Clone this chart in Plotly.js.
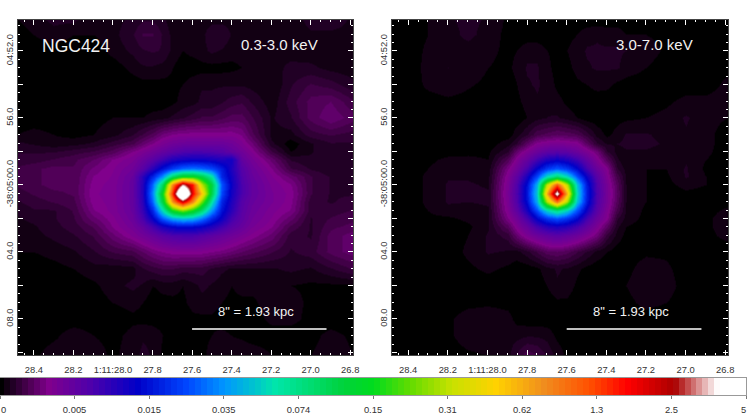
<!DOCTYPE html>
<html>
<head>
<meta charset="utf-8">
<script src="https://cdn.plot.ly/plotly-3.0.1.min.js"></script>
<style>html,body{margin:0;padding:0;background:#fff}#plot{width:747px;height:415px}</style>
</head>
<body>
<div id="plot"></div>
<script>
// right ascension (seconds of 1:11:xx) and declination (seconds past -38:04:00)
const raSec = [28.483,28.4,28.3,28.2,28.1,28.0,27.9,27.85,27.8,27.75,27.7,27.65,27.6,27.55,27.5,27.45,27.4,27.35,27.3,27.2,27.1,27.0,26.9,26.786];
const decSec = [50.12,51,52,53,54,55,56,57,57.5,58,58.5,59,59.5,60,60.5,61,61.5,62,62.5,63,64,65,66,67,68,69,70.15];

// brightness, in units of the colour bar (0 = first tick, 10 = last)
const softBand = [
[.05,.1,.15,.15,.05,.1,.15,.2,.2,.15,.08,.08,.08,.08,.1,.1,.1,.08,.1,.1,.1,.15,.2,.1],
[0,.05,.1,.05,.05,.1,.2,.3,.3,.2,.1,.1,.1,.1,.2,.2,.12,.1,.1,.1,.1,.12,.1,.1],
[0,0,0,0,0,.08,.15,.2,.22,.2,.1,.05,.08,.1,.15,.12,.08,.08,.08,.1,.1,.08,.08,.1],
[0,0,0,0,0,0,.08,.12,.12,.1,.05,0,0,.02,.02,.02,.03,.05,.05,.1,.15,.15,.1,.08],
[0,0,0,0,0,0,0,.02,.02,.02,.03,.05,.1,.12,.12,.12,.12,.12,.1,.05,.2,.3,.25,.15],
[0,0,0,0,0,0,0,0,0,0,.03,.08,.1,.15,.15,.2,.25,.28,.2,.08,.25,.4,.45,.3],
[0,0,0,0,.02,.05,.05,.05,.08,.1,.15,.2,.25,.3,.3,.35,.4,.4,.3,.12,.2,.4,.52,.4],
[.05,.08,.05,.02,.05,.1,.2,.3,.4,.55,.62,.66,.66,.66,.66,.66,.66,.6,.4,.1,.1,.25,.3,.25],
[.15,.12,.08,.1,.15,.25,.35,.5,.62,.75,.85,.9,.92,.92,.92,.92,.85,.72,.55,.15,0,.12,.2,.2],
[.2,.2,.2,.25,.3,.4,.62,.72,.85,.98,1.1,1.2,1.25,1.25,1.2,1.15,1.0,.85,.68,.3,.05,.12,.2,.2],
[.25,.25,.3,.35,.45,.62,.75,.92,1.1,1.35,1.6,1.7,1.75,1.75,1.7,1.6,1.7,1.0,.8,.5,.2,.15,.15,.15],
[.3,.35,.4,.38,.55,.68,.85,1.1,1.5,2.0,2.4,2.7,2.8,2.7,2.5,2.1,1.6,1.15,.9,.62,.3,.2,.15,.15],
[.3,.35,.4,.38,.62,.7,.95,1.5,2.2,3.0,4.3,5.0,5.0,4.6,3.8,2.2,1.7,1.2,.95,.7,.5,.3,.2,.15],
[.3,.35,.4,.38,.66,.72,.98,1.55,2.7,4.3,7.4,9.4,8.3,6.0,4.6,2.6,1.75,1.25,1.0,.75,.62,.3,.2,.15],
[.25,.3,.35,.38,.68,.72,.98,1.55,2.9,5.0,8.2,12,8.5,6.8,4.5,2.5,1.7,1.25,1.0,.78,.66,.3,.2,.2],
[.2,.25,.3,.35,.66,.72,.98,1.5,2.7,4.6,7.3,8.8,7.4,5.6,3.8,2.2,1.6,1.15,.95,.78,.64,.25,.2,.25],
[.15,.2,.2,.3,.6,.72,.95,1.4,2.2,3.6,5.0,5.6,5.0,4.2,3.0,2.0,1.5,1.1,.9,.72,.6,.25,.25,.3],
[.12,.15,.2,.28,.5,.66,.9,1.25,1.8,2.6,3.1,3.3,3.2,2.8,2.2,1.75,1.3,1.05,.85,.68,.48,.2,.3,.35],
[.1,.12,.18,.25,.38,.62,.82,1.0,1.3,1.65,1.85,1.95,1.9,1.8,1.6,1.35,1.1,.95,.78,.62,.35,.2,.35,.4],
[.1,.1,.15,.2,.3,.5,.7,.82,.95,1.1,1.2,1.25,1.25,1.15,1.05,.95,.85,.75,.66,.5,.25,.2,.4,.5],
[.05,.05,.08,.12,.2,.3,.35,.45,.55,.62,.66,.68,.68,.66,.62,.58,.52,.45,.4,.3,.2,.25,.4,.5],
[0,0,.02,.05,.1,.08,.1,.2,.25,.3,.3,.25,.25,.25,.2,.15,.12,.12,.12,.12,.15,.12,.2,.3],
[0,0,0,0,.03,.1,.15,.12,.05,.08,.08,.05,.1,.15,.12,.08,.05,.08,.08,.06,.05,.03,.03,.03],
[0,0,0,0,0,.05,.08,.05,0,.02,.03,.03,.08,.1,.1,.05,.03,.03,.03,.1,.1,.02,0,0],
[0,0,0,0,0,0,.03,.02,0,0,0,0,.03,.03,.03,0,0,0,0,.08,.08,.02,0,0],
[0,0,.03,.1,.05,.02,.08,.12,.12,.05,0,0,0,.03,.05,.08,.05,.03,0,0,0,.02,.08,.03],
[0,.03,.1,.12,.1,.03,.1,.15,.12,.03,0,0,0,.03,.08,.1,.12,.14,.12,.05,.02,.05,.1,.05]
];
const hardBand = [
[0,0,.05,.12,.15,.12,.03,0,0,0,0,0,0,0,0,0,0,0,0,0,0,0,0,0],
[0,0,.05,.1,.15,.1,.02,0,0,0,0,.02,.02,.05,.1,.12,.1,.1,.05,.05,.02,0,0,0],
[0,0,.07,.1,.1,.07,.03,.05,.1,.1,.05,.03,.05,.1,.14,.14,.14,.14,.13,.1,.03,0,0,0],
[0,0,.08,.13,.1,.05,.03,.08,.14,.14,.07,.02,.02,.08,.12,.14,.14,.14,.1,.05,0,0,0,.02],
[0,0,.07,.1,.06,.03,0,.05,.12,.14,.1,.03,0,.03,.05,.08,.07,.03,.01,0,0,0,0,.08],
[0,0,.01,.03,.02,0,0,.03,.08,.12,.12,.08,.03,0,0,0,0,0,0,0,.03,.08,.08,.1],
[0,0,0,0,0,0,0,0,.05,.1,.13,.14,.1,.05,0,0,0,.02,.03,.05,.08,.14,.08,.05],
[0,0,0,0,0,0,0,.1,.2,.35,.4,.45,.42,.38,.25,.1,.03,.08,.14,.14,.1,.12,.08,0],
[0,0,0,0,0,0,.1,.22,.45,.66,.72,.75,.72,.68,.45,.22,.12,.13,.15,.15,.12,.12,.08,0],
[0,0,0,.02,.03,.03,.2,.5,.72,.9,1.05,1.1,1.05,.9,.73,.55,.22,.1,.12,.12,.1,.12,.07,0],
[0,0,.03,.07,.07,.05,.4,.7,.95,1.3,1.6,1.75,1.6,1.35,1.0,.7,.42,.15,.05,.05,.08,.12,.05,0],
[0,0,.05,.1,.1,.08,.6,.85,1.25,1.85,2.35,2.6,2.35,1.9,1.3,.9,.65,.22,.1,.05,.05,.14,.03,0],
[0,0,.07,.12,.12,.1,.7,1.05,1.65,2.5,3.6,4.2,3.6,2.6,1.75,1.1,.7,.35,.12,.05,.03,.14,.05,0],
[0,0,.07,.14,.14,.12,.75,1.2,1.95,3.2,6.0,7.8,6.0,3.4,2.05,1.2,.78,.42,.13,.05,.02,.08,.05,0],
[0,0,.07,.14,.15,.14,.78,1.25,2.05,3.4,7.0,9.9,7.0,3.6,2.1,1.25,.8,.45,.13,.05,0,.03,.02,0],
[0,0,.07,.14,.13,.14,.75,1.2,1.95,3.2,5.9,7.6,5.9,3.4,2.05,1.2,.78,.42,.13,.05,0,.02,0,.02],
[0,0,.05,.1,.1,.12,.7,1.05,1.65,2.5,3.5,4.0,3.5,2.55,1.7,1.08,.7,.35,.12,.03,0,0,.02,.07],
[0,0,.03,.03,.07,.12,.6,.85,1.25,1.85,2.3,2.55,2.3,1.9,1.3,.9,.65,.22,.1,.02,0,0,.03,.1],
[0,0,0,0,.03,.12,.42,.7,.95,1.3,1.55,1.65,1.55,1.3,1.0,.72,.45,.15,.05,0,0,0,.03,.1],
[0,0,0,0,.05,.14,.25,.5,.72,.88,1.0,1.08,1.0,.88,.72,.55,.25,.1,.02,0,0,0,.02,.08],
[0,0,0,0,.07,.14,.12,.1,.18,.3,.42,.45,.4,.3,.2,.1,.05,0,0,.03,.03,0,0,0],
[0,0,0,0,.03,.07,.03,0,0,.03,.1,.14,.12,.07,.02,0,0,0,.02,.1,.07,0,0,0],
[0,0,0,0,0,0,0,0,0,0,.05,.12,.1,.03,0,0,0,0,.05,.12,.1,0,0,0],
[0,0,0,0,.02,.03,.02,0,0,0,0,.03,.03,0,0,0,0,0,.02,.08,.05,0,0,0],
[0,0,0,.03,.1,.12,.08,.02,0,0,0,0,0,0,0,0,0,0,0,0,0,0,0,0],
[0,0,0,.03,.1,.12,.1,.1,.12,.12,.1,.03,0,0,0,0,0,0,0,0,0,0,0,0],
[0,0,0,0,.03,.05,.1,.22,.35,.3,.2,.1,.03,0,0,0,0,0,0,0,0,0,0,0]
];

const raTicks = [28.4,28.2,28.0,27.8,27.6,27.4,27.2,27.0,26.8];
const raLabels = ['28.4','28.2','1:11:28.0','27.8','27.6','27.4','27.2','27.0','26.8'];
const decTicks = [52,54,56,58,60,62,64,66,68,70];
const decLabels = ['04:52.0','','56.0','','-38:05:00.0','','04.0','','08.0',''];
const barTicks = [0,1,2,3,4,5,6,7,8,9,10];
const barLabels = ['','0.005','0.015','0.035','0.074','0.15','0.31','0.62','1.3','2.5',''];

// colour table of the viewer: anchors along the bar, drawn in narrow flat steps
const stopLevels = [0,.65,1.2,1.85,2.5,3.0,3.7,4.6,5.0,5.5,6.05,6.65,7.3,7.9,8.4,9.03,9.62,10];
const stopColors = [[0,0,0],[128,0,140],[80,0,170],[0,0,200],[0,70,255],[0,150,255],[0,230,170],[0,210,60],[0,220,30],[100,220,0],[200,225,0],[255,210,0],[240,140,30],[255,80,0],[255,0,0],[170,0,0],[255,255,255],[255,255,255]];
const stepWidth = 0.08;
const stepOffset = 0.03;

function colourAt(v) {
  let i = 0;
  while (i < stopLevels.length - 2 && v > stopLevels[i + 1]) i++;
  const f = (v - stopLevels[i]) / (stopLevels[i + 1] - stopLevels[i]);
  const c = stopColors[i].map((a, k) => Math.round(a + (stopColors[i + 1][k] - a) * f));
  return `rgb(${c.join(',')})`;
}

const nSteps = Math.floor(10 / stepWidth);
const stepEdges = [0];
for (let i = 1; i <= nSteps; i++) stepEdges.push((i * stepWidth - stepOffset) / 10);
stepEdges.push(1);
const steppedScale = [];
for (let i = 0; i < stepEdges.length - 1; i++) {
  const c = i === 0 ? 'rgb(0,0,0)' : colourAt(stepEdges[i] * 10 + stepWidth / 2);
  steppedScale.push([stepEdges[i], c], [stepEdges[i + 1], c]);
}

// the strip under the panels, one cell per flat step
const barX = [];
for (let v = 0; v <= 10; v += 0.02) barX.push(v);

const axisFont = { family: 'Liberation Sans, Arial, sans-serif', size: 9.4, color: '#333' };

function raAxis(domain, anchor) {
  return {
    domain: domain, anchor: anchor, range: [28.483, 26.786],
    tickmode: 'array', tickvals: raTicks, ticktext: raLabels, tickfont: axisFont,
    ticks: 'inside', ticklen: 5, tickwidth: 1, tickcolor: '#fff', mirror: 'allticks',
    showline: true, linecolor: '#444', linewidth: 1, showgrid: false, zeroline: false,
    ticklabelstandoff: 6,
    minor: { dtick: 0.05, ticks: 'inside', ticklen: 2, tickwidth: 1, tickcolor: '#fff', showgrid: false }
  };
}

function decAxis(anchor) {
  return {
    domain: [60 / 415, 395.5 / 415], anchor: anchor, range: [70.15, 50.12],
    tickmode: 'array', tickvals: decTicks, ticktext: decLabels, tickfont: axisFont, tickangle: -90,
    ticks: 'inside', ticklen: 5, tickwidth: 1, tickcolor: '#fff', mirror: 'allticks',
    showline: true, linecolor: '#444', linewidth: 1, showgrid: false, zeroline: false,
    minor: { dtick: 0.5, ticks: 'inside', ticklen: 2, tickwidth: 1, tickcolor: '#fff', showgrid: false }
  };
}

function panel(z, xa, ya) {
  return { type: 'heatmap', x: raSec, y: decSec, z: z, xaxis: xa, yaxis: ya, zsmooth: 'best', coloraxis: 'coloraxis', hoverinfo: 'skip' };
}

function label(text, xref, x, y, size) {
  return { text: text, xref: xref, yref: xref.replace('x', 'y'), x: x, y: y, showarrow: false,
    font: { family: 'Liberation Sans, Arial, sans-serif', size: size, color: '#f2f2f2' } };
}

// end labels of the bar sit just inside the page
function barEnd(text, x, anchor) {
  return { text: text, xref: 'paper', yref: 'paper', x: x, y: 0.0135, xanchor: anchor, yanchor: 'middle', showarrow: false,
    font: axisFont, borderpad: 0, borderwidth: 0 };
}

function scaleBar(xref) {
  return { type: 'line', xref: xref, yref: xref.replace('x', 'y'), x0: 27.6, x1: 26.92, y0: 68.6, y1: 68.6,
    line: { color: '#fff', width: 1.6 } };
}

const layout = {
  width: 747, height: 415,
  margin: { l: 0, r: 0, t: 0, b: 0 },
  paper_bgcolor: '#fff', plot_bgcolor: '#000', showlegend: false,
  xaxis: raAxis([17.5 / 747, 353 / 747], 'y'),
  yaxis: decAxis('x'),
  xaxis2: raAxis([391.7 / 747, 728 / 747], 'y2'),
  yaxis2: decAxis('x2'),
  xaxis3: {
    domain: [0, 746 / 747], anchor: 'y3', range: [0, 10],
    tickmode: 'array', tickvals: barTicks, ticktext: barLabels, tickfont: axisFont,
    ticks: 'outside', ticklen: 3, tickcolor: '#777', ticklabelstandoff: 3,
    showline: true, linecolor: '#999', linewidth: 1, mirror: true, showgrid: false, zeroline: false
  },
  yaxis3: {
    domain: [20 / 415, 37 / 415], anchor: 'x3', range: [-0.5, 0.5],
    showticklabels: false, ticks: '', showline: true, linecolor: '#999', linewidth: 1, mirror: true, showgrid: false, zeroline: false
  },
  coloraxis: { cmin: 0, cmax: 10, colorscale: steppedScale, showscale: false },
  annotations: [
    label('NGC424', 'x', 28.188, 51.7, 17.5),
    label('0.3-3.0 keV', 'x', 27.158, 51.6, 15),
    label('8" = 1.93 kpc', 'x', 27.275, 67.55, 13),
    label('3.0-7.0 keV', 'x2', 27.158, 51.6, 15),
    label('8" = 1.93 kpc', 'x2', 27.275, 67.55, 13),
    barEnd('0', 0.001, 'left'),
    barEnd('5', 0.999, 'right')
  ],
  shapes: [scaleBar('x'), scaleBar('x2')]
};

const traces = [
  panel(softBand, 'x', 'y'),
  panel(hardBand, 'x2', 'y2'),
  { type: 'heatmap', x: barX, y: [0], z: [barX], xaxis: 'x3', yaxis: 'y3', coloraxis: 'coloraxis', hoverinfo: 'skip' }
];

Plotly.newPlot('plot', traces, layout, { displayModeBar: false, staticPlot: true });
</script>
</body>
</html>
